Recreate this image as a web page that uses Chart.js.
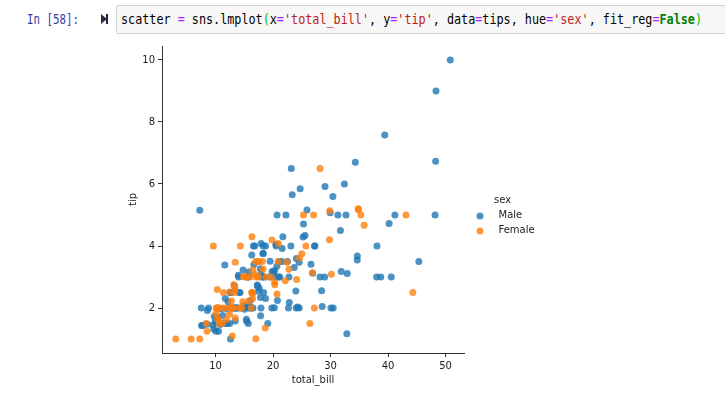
<!DOCTYPE html>
<html>
<head>
<meta charset="utf-8">
<script src="https://cdn.jsdelivr.net/npm/chart.js@4"></script>
<style>
  html, body { margin:0; padding:0; background:#fff; width:725px; height:393px; overflow:hidden; }
  #prompt { position:absolute; left:27px; top:10px; font-family:"DejaVu Sans Mono", monospace; font-size:14px; line-height:18px; color:#303F9F; white-space:pre; transform-origin:0 50%; }
  #runicon { position:absolute; left:101px; top:14px; width:0; height:0; border-top:5px solid transparent; border-bottom:5px solid transparent; border-left:6px solid #2f2a3a; }
  #runbar { position:absolute; left:106px; top:14px; width:2px; height:10px; background:#1e2540; }
  #cell { position:absolute; left:116px; top:5px; width:640px; height:27px; background:#f7f7f7; border:1px solid #cfcfcf; border-radius:2px; }
  #code { position:absolute; left:121px; top:10px; font-family:"DejaVu Sans Mono", monospace; font-size:14px; line-height:18px; color:#000; white-space:pre; transform-origin:0 50%; }
  .op { color:#AA22FF; }
  .str { color:#BA2121; }
  .kw { color:#008000; font-weight:bold; }
  .br { color:#00bb00; }
  #chart { position:absolute; left:0; top:0; }
</style>
</head>
<body>
<div id="prompt">In [58]:</div>
<div id="runicon"></div><div id="runbar"></div>
<div id="cell"></div>
<div id="code">scatter <span class="op">=</span> sns.lmplot<span class="br">(</span>x<span class="op">=</span><span class="str">'total_bill'</span>, y<span class="op">=</span><span class="str">'tip'</span>, data<span class="op">=</span>tips, hue<span class="op">=</span><span class="str">'sex'</span>, fit_reg<span class="op">=</span><span class="kw">False</span><span class="br">)</span></div>
<canvas id="chart" width="725" height="393"></canvas>
<script>
// tips dataset, split by sex
const maleBill = [
  10.34,21.01,23.68,25.29,8.77,26.88,15.04,14.78,10.27,15.42,
  18.43,21.58,16.29,20.65,17.92,39.42,19.82,17.81,13.37,12.69,
  21.7,9.55,18.35,17.78,24.06,16.31,18.69,31.27,16.04,17.46,
  13.94,9.68,30.4,18.29,22.23,32.4,28.55,18.04,12.54,9.94,
  25.56,19.49,38.01,11.24,48.27,20.29,13.81,11.02,18.29,17.59,
  20.08,20.23,15.01,12.02,10.51,17.92,27.2,22.76,17.29,19.44,
  16.66,32.68,15.98,13.03,18.28,24.71,21.16,28.97,22.49,40.17,
  27.28,12.03,21.01,12.46,15.36,20.49,25.21,18.24,14.0,38.07,
  23.95,29.93,11.69,14.26,15.95,8.52,22.82,19.08,16.0,34.3,
  41.19,9.78,7.51,14.07,13.13,17.26,24.55,19.77,48.17,16.49,
  21.5,12.66,13.81,24.52,20.76,31.71,50.81,15.81,7.25,31.85,
  16.82,32.9,17.89,14.48,34.63,34.65,23.33,45.35,23.17,40.55,
  20.69,30.46,23.1,15.69,28.44,15.48,16.58,7.56,10.34,13.51,
  18.71,20.53,26.59,38.73,24.27,30.06,25.89,48.33,28.15,11.59,
  7.74,12.16,8.58,13.42,20.45,13.28,24.01,15.69,11.61,10.77,
  15.53,10.07,12.6,32.83,29.03,22.67,17.82
];
const maleTip = [
  1.66,3.5,3.31,4.71,2.0,3.12,1.96,3.23,1.71,1.57,
  3.0,3.92,3.71,3.35,4.08,7.58,3.18,2.34,2.0,2.0,
  4.3,1.45,2.5,3.27,3.6,2.0,2.31,5.0,2.24,2.54,
  3.06,1.32,5.6,3.0,5.0,6.0,2.05,3.0,2.5,1.56,
  4.34,3.51,3.0,1.76,6.73,3.21,2.0,1.98,3.76,2.64,
  3.15,2.01,2.09,1.97,1.25,3.08,4.0,3.0,2.71,3.0,
  3.4,5.0,2.03,2.0,4.0,5.85,3.0,3.0,3.5,4.73,
  4.0,1.5,3.0,1.5,1.64,4.06,4.29,3.76,3.0,4.0,
  2.55,5.07,2.31,2.5,2.0,1.48,2.18,1.5,2.0,6.7,
  5.0,1.73,2.0,2.5,2.0,2.74,2.0,2.0,5.0,2.0,
  3.5,2.5,2.0,3.48,2.24,4.5,10.0,3.16,5.15,3.18,
  4.0,3.11,2.0,2.0,3.55,3.68,5.65,3.5,6.5,3.0,
  5.0,2.0,4.0,1.5,2.56,2.02,4.0,1.44,2.0,2.0,
  4.0,4.0,3.41,3.0,2.03,2.0,5.16,9.0,3.0,1.5,
  1.44,2.2,1.92,1.58,3.0,2.72,2.0,3.0,3.39,1.47,
  3.0,1.25,1.0,1.17,5.92,2.0,1.75
];
const femaleBill = [
  16.99,24.59,35.26,14.83,10.33,16.97,20.29,15.77,19.65,15.06,
  20.69,16.93,10.29,34.81,26.41,16.45,3.07,17.07,26.86,25.28,
  14.73,10.07,34.83,5.75,16.32,22.75,11.35,15.38,44.3,22.42,
  20.92,14.31,7.25,25.71,17.31,10.65,12.43,24.08,13.42,12.48,
  29.8,14.52,11.38,20.27,11.17,12.26,18.26,8.51,10.33,14.15,
  13.16,17.47,27.05,16.43,8.35,18.64,11.87,29.85,25.0,13.39,
  16.21,17.51,10.59,10.63,9.6,20.9,18.15,19.81,43.11,13.0,
  12.74,13.0,16.4,16.47,12.76,13.27,28.17,12.9,30.14,13.42,
  15.98,16.27,10.09,22.12,35.83,27.18,18.78
];
const femaleTip = [
  1.01,3.61,5.0,3.02,1.67,3.5,2.75,2.23,3.0,3.0,
  2.45,3.07,2.6,5.2,1.5,2.47,1.0,3.0,3.14,5.0,
  2.2,1.83,5.17,1.0,4.3,3.25,2.5,3.0,2.5,3.48,
  4.08,4.0,1.0,4.0,3.5,1.5,1.8,2.92,1.68,2.52,
  4.2,2.0,2.0,2.83,1.5,2.0,3.25,1.25,2.0,2.0,
  2.75,3.5,5.0,2.3,1.5,1.36,1.63,5.14,3.75,2.61,
  2.0,3.0,1.61,2.0,4.0,3.5,3.5,4.19,5.0,2.0,
  2.01,2.0,2.5,3.23,2.23,2.5,6.5,1.1,3.09,3.48,
  3.0,2.5,2.0,2.88,4.67,2.0,3.0
];
const seriesNames = ['Male', 'Female'];
const legendTitle = 'sex';
const xTicks = [10, 20, 30, 40, 50];
const yTicks = [2, 4, 6, 8, 10];
const xLabel = 'total_bill';
const yLabel = 'tip';

// fit notebook text widths
function fitWidth(id, target) {
  const el = document.getElementById(id);
  const w = el.getBoundingClientRect().width;
  el.style.transform = 'scaleX(' + (target / w) + ')';
}
fitWidth('prompt', 52);
fitWidth('code', 581);

const FONT = 'DejaVu Sans';
const INK = '#222';
const SPINE = '#333';
const RADIUS = 3.5;

const legendPlugin = {
  id: 'sideLegend',
  afterDraw(chart) {
    const ctx = chart.ctx;
    const a = chart.chartArea;
    ctx.save();
    ctx.font = '10px "' + FONT + '"';
    ctx.fillStyle = INK;
    ctx.textBaseline = 'middle';
    ctx.textAlign = 'left';
    ctx.fillText(legendTitle, a.right + 30, 200.5);
    chart.data.datasets.forEach((ds, i) => {
      const y = 216 + i * 15;
      ctx.beginPath();
      ctx.fillStyle = ds.backgroundColor;
      ctx.arc(a.right + 16, y, RADIUS, 0, Math.PI * 2);
      ctx.fill();
      ctx.fillStyle = INK;
      ctx.fillText(ds.label, a.right + 34.5, y - 1);
    });
    ctx.restore();
  }
};

function axisCommon(ticksArr, title, titlePad) {
  return {
    type: 'linear',
    afterBuildTicks: s => { s.ticks = ticksArr.map(v => ({ value: v })); },
    grid: { display: true, drawOnChartArea: false, drawTicks: true, tickLength: 4, color: SPINE, lineWidth: 1 },
    border: { display: true, color: SPINE, width: 1 },
    ticks: { padding: 3, color: INK, font: { family: FONT, size: 10 } },
    title: { display: true, text: title, color: INK, font: { family: FONT, size: 10 }, padding: titlePad }
  };
}

const xScale = Object.assign(axisCommon(xTicks, xLabel, { top: 0, bottom: 7 }), {
  position: 'bottom', min: 0.683, max: 53.2,
  afterFit: s => { s.height = 40; }
});
const yScale = Object.assign(axisCommon(yTicks, yLabel, { top: 17, bottom: 0 }), {
  position: 'left', min: 0.55, max: 10.45,
  afterFit: s => { s.width = 52; }
});

new Chart(document.getElementById('chart'), {
  type: 'scatter',
  data: {
    datasets: [
      { label: seriesNames[0], data: maleBill.map((x, i) => ({ x: x, y: maleTip[i] })),
        backgroundColor: 'rgba(31,119,180,0.8)', borderWidth: 0, pointRadius: RADIUS, order: 1 },
      { label: seriesNames[1], data: femaleBill.map((x, i) => ({ x: x, y: femaleTip[i] })),
        backgroundColor: 'rgba(255,127,14,0.8)', borderWidth: 0, pointRadius: RADIUS, order: 0 }
    ]
  },
  options: {
    responsive: false,
    animation: false,
    events: [],
    layout: { padding: { left: 110, top: 46, right: 261, bottom: 0 } },
    plugins: { legend: { display: false }, tooltip: { enabled: false } },
    scales: { x: xScale, y: yScale }
  },
  plugins: [legendPlugin]
});
</script>
</body>
</html>
